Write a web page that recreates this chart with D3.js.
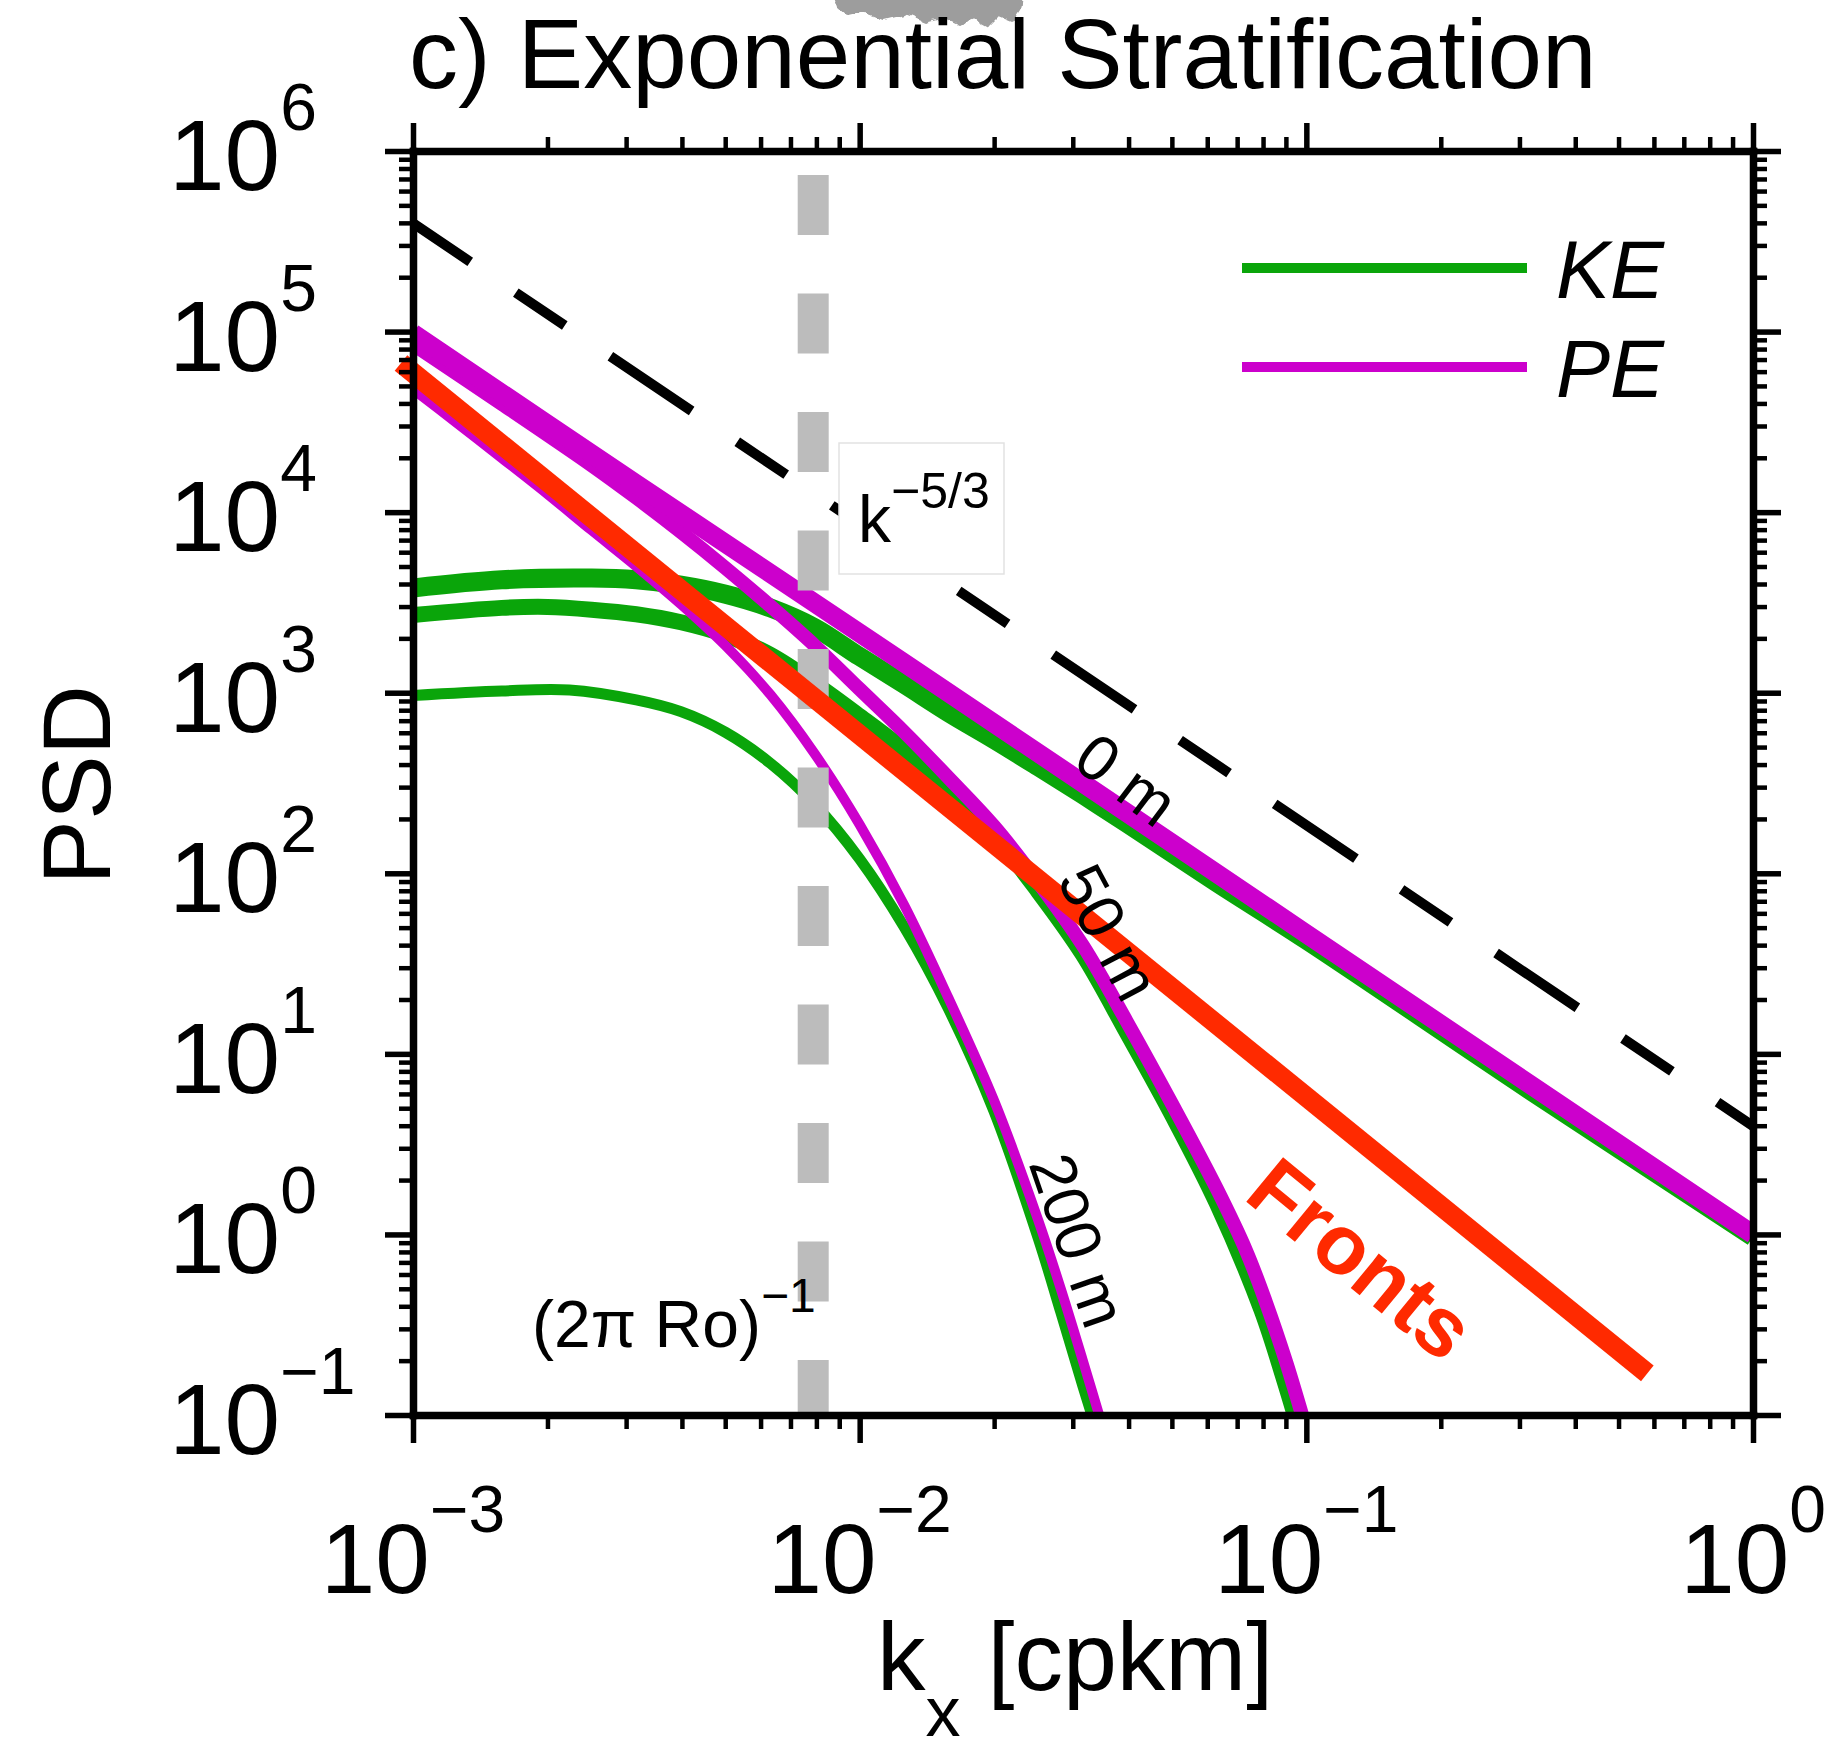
<!DOCTYPE html>
<html>
<head>
<meta charset="utf-8">
<title>c) Exponential Stratification</title>
<script src="https://d3js.org/d3.v7.min.js"></script>
<style>
    body { margin: 0; background: #fff; }
    #chart-area { width: 1824px; height: 1740px; }
    text { font-family: "Liberation Sans", Arial, Helvetica, sans-serif; }
</style>
</head>
<body>
<div id="chart-area"></div>
<script>

// spectra, [k (cpkm), PSD]
const keSurface = [
    [0.001, 3800], [0.00158, 4220], [0.00251, 4315], [0.00316, 4220], [0.00398, 3940],
    [0.00501, 3510], [0.00631, 2950], [0.00794, 2290], [0.01, 1585], [0.0126, 1110],
    [0.0158, 776], [0.02, 550], [0.0251, 389], [0.0316, 272], [0.0398, 188],
    [0.0631, 88.5], [0.1, 42.7], [0.316, 6.31], [1, 0.97]
];
const ke50 = [
    [0.001, 2690], [0.00158, 2950], [0.002, 2985], [0.00251, 2884], [0.00316, 2720],
    [0.00398, 2455], [0.00501, 2090], [0.00631, 1620], [0.00794, 1122], [0.01, 741],
    [0.0126, 479], [0.0158, 288], [0.02, 162], [0.0251, 79.4], [0.0316, 35.5],
    [0.0398, 12.9], [0.0501, 4.57], [0.0631, 1.48], [0.0794, 0.38], [0.0891, 0.158],
    [0.0955, 0.089]
];
const ke200 = [
    [0.001, 966], [0.00158, 1023], [0.00224, 1035], [0.00316, 912], [0.00398, 785],
    [0.00501, 603], [0.00631, 407], [0.00794, 240], [0.01, 120], [0.0126, 50.1],
    [0.0158, 17.8], [0.02, 4.79], [0.0251, 0.955], [0.0282, 0.372], [0.0316, 0.145],
    [0.0339, 0.083]
];
const peSurface = [
    [0.001, 97700], [0.00316, 14350], [0.01, 2140], [0.0316, 316], [0.1, 46.2],
    [0.316, 6.8], [1, 1.0]
];
const pe50 = [
    [0.001, 85100], [0.00158, 39800], [0.00251, 18200], [0.00316, 12020], [0.00398, 7760],
    [0.00501, 4900], [0.00631, 3020], [0.00794, 1820], [0.01, 1047], [0.0126, 603],
    [0.0158, 339], [0.02, 182], [0.0251, 89.1], [0.0316, 39.8], [0.0398, 14.8],
    [0.0501, 5.25], [0.0631, 1.78], [0.0733, 0.813], [0.0813, 0.417], [0.0902, 0.195],
    [0.1, 0.083]
];
const pe200 = [
    [0.001, 47900], [0.00126, 30900], [0.00158, 19950], [0.002, 12590], [0.00251, 7940],
    [0.00316, 5010], [0.00398, 3090], [0.00501, 1820], [0.00631, 977], [0.00794, 457],
    [0.01, 186], [0.0126, 66.1], [0.0158, 20.4], [0.02, 5.5], [0.0251, 1.2],
    [0.0282, 0.5], [0.0316, 0.2], [0.0339, 0.112], [0.0363, 0.063]
];

// reference slopes
const kolmogorov = [[0.001, 3.98e5], [1, 3.98]];   // k^-5/3
const fronts = [[0.00094, 6.7e4], [0.58, 0.17]];   // k^-2
const rossbyK = 0.00787;                           // (2 pi Ro)^-1

// tick labels
const xDecades = [1e-3, 1e-2, 1e-1, 1];
const xExponents = ["\u22123", "\u22122", "\u22121", "0"];
const yDecades = [1e6, 1e5, 1e4, 1e3, 1e2, 1e1, 1, 1e-1];
const yExponents = ["6", "5", "4", "3", "2", "1", "0", "\u22121"];

const legendItems = ["KE", "PE"];

class SpectrumVis {
    constructor(parentElement) {
        this.parentElement = parentElement;
        this.initVis();
    }

    initVis() {
        let vis = this;

        // margin conventions
        vis.margin = {top: 151, right: 71, bottom: 325, left: 413};
        vis.width = 1824 - vis.margin.left - vis.margin.right;
        vis.height = 1740 - vis.margin.top - vis.margin.bottom;

        vis.svg = d3.select("#" + vis.parentElement).append("svg")
            .attr("width", 1824)
            .attr("height", 1740)
            .style("background", "#fff");

        vis.g = vis.svg.append("g")
            .attr("transform", `translate(${vis.margin.left},${vis.margin.top})`);

        vis.x = d3.scaleLog().domain([1e-3, 1]).range([0, vis.width]);
        vis.y = d3.scaleLog().domain([1e-1, 1e6]).range([vis.height, 0]);

        let defs = vis.svg.append("defs");
        defs.append("clipPath").attr("id", "plot-clip")
            .append("rect").attr("width", vis.width).attr("height", vis.height);

        // rough edge for the smudge above the title
        let rough = defs.append("filter").attr("id", "rough")
            .attr("x", "-10%").attr("y", "-10%").attr("width", "120%").attr("height", "140%");
        rough.append("feTurbulence").attr("type", "fractalNoise")
            .attr("baseFrequency", 0.09).attr("numOctaves", 2).attr("seed", 3).attr("result", "noise");
        rough.append("feDisplacementMap").attr("in", "SourceGraphic").attr("in2", "noise")
            .attr("scale", 9).attr("xChannelSelector", "R").attr("yChannelSelector", "G");

        vis.colors = {ke: "#0aa50a", pe: "#cc00cc", fronts: "#ff2a00"};

        vis.wrangleData();
    }

    wrangleData() {
        let vis = this;

        vis.keSeries = [
            {values: keSurface, width: 19},
            {values: ke50, width: 16},
            {values: ke200, width: 11}
        ];
        vis.peSeries = [
            {values: pe200, width: 10},
            {values: pe50, width: 14},
            {values: peSurface, width: 19}
        ];

        vis.updateVis();
    }

    updateVis() {
        let vis = this;

        let line = d3.line()
            .x(d => vis.x(d[0]))
            .y(d => vis.y(d[1]))
            .curve(d3.curveCatmullRom.alpha(0.5));

        // title + the grey smudge above it
        vis.svg.append("path")
            .attr("d", "M833,-6 L1022,-6 L1020,10 L1012,22 L1000,17 L990,27 L975,19 L960,25 L945,18 L925,23 L905,15 L885,20 L866,13 L848,17 L838,8 Z")
            .attr("fill", "#8c8c8c")
            .attr("opacity", 0.85)
            .attr("filter", "url(#rough)");

        vis.svg.append("text")
            .attr("x", 409).attr("y", 88)
            .attr("font-size", 98)
            .text("c) Exponential Stratification");

        // y label
        vis.svg.append("text")
            .attr("transform", "translate(110,785) rotate(-90)")
            .attr("text-anchor", "middle")
            .attr("font-size", 97)
            .text("PSD");

        // x label
        let xl = vis.svg.append("text")
            .attr("x", 877).attr("y", 1690)
            .attr("font-size", 97);
        xl.append("tspan").text("k");
        xl.append("tspan").attr("font-size", 70).attr("dy", 46).text("x");
        xl.append("tspan").attr("dy", -46).text(" [cpkm]");

        // tick labels
        yDecades.forEach((d, i) => {
            let t = vis.svg.append("text")
                .attr("x", 169)
                .attr("y", vis.margin.top + vis.y(d) + 39)
                .attr("font-size", 100);
            t.append("tspan").text("10");
            t.append("tspan").attr("font-size", 66).attr("dy", -60).text(yExponents[i]);
        });

        xDecades.forEach((d, i) => {
            let t = vis.svg.append("text")
                .attr("x", vis.margin.left + vis.x(d))
                .attr("y", 1593)
                .attr("text-anchor", "middle")
                .attr("font-size", 98);
            t.append("tspan").text("10");
            t.append("tspan").attr("font-size", 66).attr("dy", -61).text(xExponents[i]);
        });

        // curve labels (sit under the lines)
        const curveLabels = [
            {text: "0 m", x: 1127, y: 779, angle: 37},
            {text: "50 m", x: 1110, y: 932, angle: 62},
            {text: "200 m", x: 1079, y: 1240, angle: 71}
        ];
        curveLabels.forEach(l => {
            vis.svg.append("text")
                .attr("transform", `translate(${l.x},${l.y}) rotate(${l.angle})`)
                .attr("text-anchor", "middle")
                .attr("dy", "0.36em")
                .attr("font-size", 64)
                .text(l.text);
        });

        vis.svg.append("text")
            .attr("transform", "translate(1362,1258) rotate(39.5)")
            .attr("text-anchor", "middle")
            .attr("dy", "0.36em")
            .attr("font-size", 84)
            .attr("font-weight", "bold")
            .attr("fill", vis.colors.fronts)
            .text("Fronts");

        // spectra
        let plot = vis.g.append("g").attr("clip-path", "url(#plot-clip)");

        plot.selectAll(".ke")
            .data(vis.keSeries)
            .enter().append("path")
            .attr("class", "ke")
            .attr("d", d => line(d.values))
            .attr("fill", "none")
            .attr("stroke", vis.colors.ke)
            .attr("stroke-width", d => d.width)
            .attr("stroke-linejoin", "round");

        plot.selectAll(".pe")
            .data(vis.peSeries)
            .enter().append("path")
            .attr("class", "pe")
            .attr("d", d => line(d.values))
            .attr("fill", "none")
            .attr("stroke", vis.colors.pe)
            .attr("stroke-width", d => d.width)
            .attr("stroke-linejoin", "round");

        // k^-5/3 dashed reference
        plot.append("path")
            .attr("d", d3.line().x(d => vis.x(d[0])).y(d => vis.y(d[1]))(kolmogorov))
            .attr("fill", "none")
            .attr("stroke", "#000")
            .attr("stroke-width", 10)
            .attr("stroke-dasharray", "59 55 98 55")
            .attr("stroke-dashoffset", 143);

        // label box for the slope
        vis.svg.append("rect")
            .attr("x", 839).attr("y", 443)
            .attr("width", 165).attr("height", 131)
            .attr("fill", "#fff")
            .attr("stroke", "#e2e2e2")
            .attr("stroke-width", 1.5);

        let kt = vis.svg.append("text")
            .attr("x", 858).attr("y", 542)
            .attr("font-size", 66);
        kt.append("tspan").text("k");
        kt.append("tspan").attr("font-size", 50).attr("dy", -34).text("\u22125/3");

        // (2 pi Ro)^-1 marker
        vis.g.append("line")
            .attr("x1", vis.x(rossbyK)).attr("x2", vis.x(rossbyK))
            .attr("y1", vis.y(1e6)).attr("y2", vis.y(1e-1))
            .attr("stroke", "#bcbcbc")
            .attr("stroke-width", 31)
            .attr("stroke-dasharray", "60 58.5")
            .attr("stroke-dashoffset", 94.5);

        let rt = vis.svg.append("text")
            .attr("x", 532).attr("y", 1347)
            .attr("font-size", 66);
        rt.append("tspan").text("(2\u03c0 Ro)");
        rt.append("tspan").attr("font-size", 48).attr("dy", -35).text("\u22121");

        // fronts k^-2 (not clipped, it pokes past the left axis)
        vis.g.append("path")
            .attr("d", d3.line().x(d => vis.x(d[0])).y(d => vis.y(d[1]))(fronts))
            .attr("fill", "none")
            .attr("stroke", vis.colors.fronts)
            .attr("stroke-width", 20)
            .attr("stroke-linecap", "butt");

        // legend
        let legend = vis.svg.append("g").attr("class", "legend");
        legendItems.forEach((name, i) => {
            let yy = 268 + i * 99;
            legend.append("line")
                .attr("x1", 1242).attr("x2", 1527)
                .attr("y1", yy).attr("y2", yy)
                .attr("stroke", i === 0 ? vis.colors.ke : vis.colors.pe)
                .attr("stroke-width", 10);
            legend.append("text")
                .attr("x", 1556).attr("y", yy + 30)
                .attr("font-size", 81)
                .attr("font-style", "italic")
                .text(name);
        });

        vis.drawAxes();
    }

    drawAxes() {
        let vis = this;

        let isDecade = d => Math.abs(Math.log10(d) - Math.round(Math.log10(d))) < 1e-6;
        let xMinor = vis.x.ticks().filter(d => !isDecade(d));
        let yMinor = vis.y.ticks().filter(d => !isDecade(d));

        let axes = [
            {fn: d3.axisBottom, scale: vis.x, t: `translate(0,${vis.height})`, major: xDecades, minor: xMinor},
            {fn: d3.axisTop, scale: vis.x, t: "translate(0,0)", major: xDecades, minor: xMinor},
            {fn: d3.axisLeft, scale: vis.y, t: "translate(0,0)", major: yDecades, minor: yMinor},
            {fn: d3.axisRight, scale: vis.y, t: `translate(${vis.width},0)`, major: yDecades, minor: yMinor}
        ];

        axes.forEach(a => {
            let minorG = vis.g.append("g").attr("transform", a.t)
                .call(a.fn(a.scale).tickValues(a.minor).tickSize(14).tickSizeOuter(0).tickFormat(""));
            minorG.select(".domain").remove();
            minorG.selectAll(".tick line").attr("stroke", "#000").attr("stroke-width", 4.5);

            let majorG = vis.g.append("g").attr("transform", a.t)
                .call(a.fn(a.scale).tickValues(a.major).tickSize(28).tickSizeOuter(0).tickFormat(""));
            majorG.selectAll(".tick line").attr("stroke", "#000").attr("stroke-width", 5.5);
            majorG.select(".domain")
                .attr("stroke", "#000")
                .attr("stroke-width", 7.5)
                .attr("stroke-linecap", "square");
        });
    }
}

new SpectrumVis("chart-area");

</script>
</body>
</html>
